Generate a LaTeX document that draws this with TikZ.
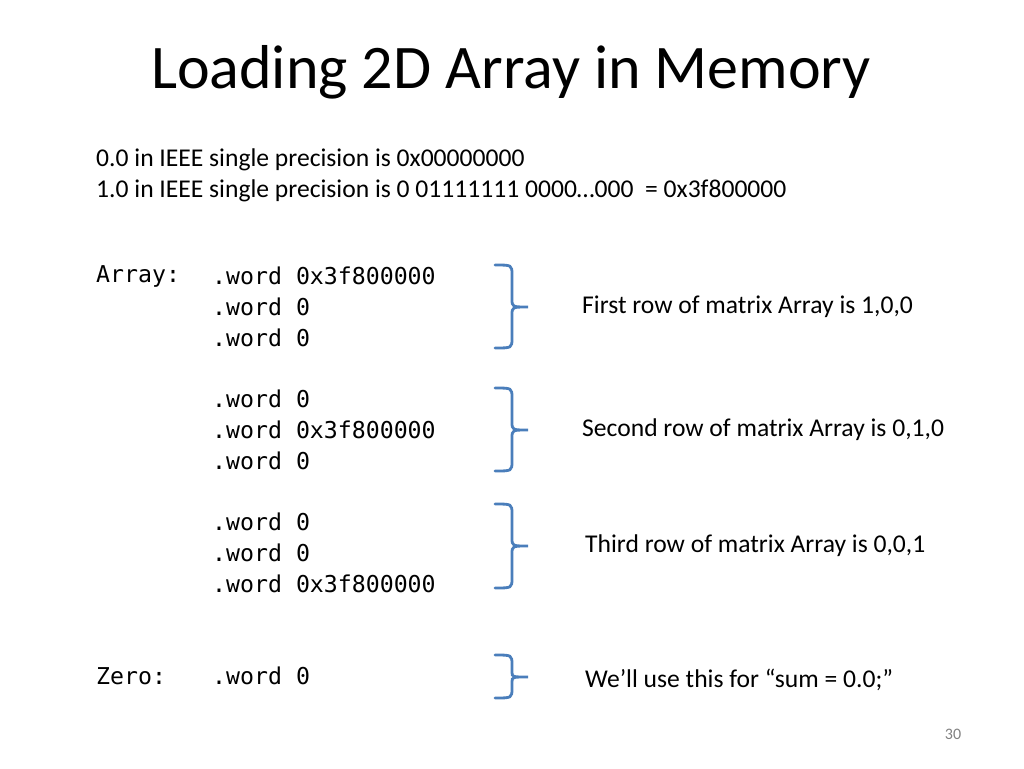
\documentclass[tikz,border=0pt]{standalone}
\usepackage{fontspec}
\setmainfont{Carlito}
\newfontfamily\monofnt{DejaVu Sans Mono}
\definecolor{brc}{HTML}{4A7EBB}
\tikzset{
 x=1pt,y=-1pt,
 txt/.style={anchor=west,inner sep=0pt,font=\fontsize{25.6}{30}\selectfont},
 mono/.style={anchor=west,inner sep=0pt,font=\monofnt\fontsize{23.2}{28}\selectfont},
 brc/.style={draw=brc,line width=2.8pt,line cap=round}
}
\newcommand{\brk}[3]{% top, bottom, mid y
 \draw[brc] (495,#1) .. controls (512,#1) and (512,#1) .. (512,#1+10) -- (512,#3-8) .. controls (512,#3) .. (528,#3)
   .. controls (512,#3) .. (512,#3+8) -- (512,#2-10) .. controls (512,#2) and (512,#2) .. (495,#2);}
\begin{document}
\begin{tikzpicture}
\useasboundingbox (0,0) rectangle (1024,768);
\node[anchor=center,inner sep=0pt,font=\fontsize{62}{72}\selectfont] (title) at (511,72) {Loading 2D Array in Memory};
\node[txt] (l1) at (96,160) {0.0 in IEEE single precision is 0x00000000};
\node[txt] (l2) at (96,191) {1.0 in IEEE single precision is 0 01111111 0000…000 \ = 0x3f800000};
\node[mono] (arr) at (96,276) {Array:};
\node[mono] (w1) at (212,276) {.word 0x3f800000};
\node[mono] (w2) at (212,307) {.word 0};
\node[mono] (w3) at (212,338) {.word 0};
\node[mono] (w4) at (212,399) {.word 0};
\node[mono] (w5) at (212,430) {.word 0x3f800000};
\node[mono] (w6) at (212,461) {.word 0};
\node[mono] (w7) at (212,522) {.word 0};
\node[mono] (w8) at (212,553) {.word 0};
\node[mono] (w9) at (212,584) {.word 0x3f800000};
\node[mono] (zero) at (96,676) {Zero:};
\node[mono] (w10) at (212,676) {.word 0};
\brk{265}{348}{307}
\brk{388}{471}{430}
\brk{504}{588}{546}
\draw[brc] (495,655) .. controls (512,655) .. (512,665) -- (512,672) .. controls (512,677) .. (528,677)
   .. controls (512,677) .. (512,682) -- (512,688) .. controls (512,698) .. (495,698);
\node[txt] (r1) at (582,307) {First row of matrix Array is 1,0,0};
\node[txt] (r2) at (582,430) {Second row of matrix Array is 0,1,0};
\node[txt] (r3) at (585,546) {Third row of matrix Array is 0,0,1};
\node[txt] (r4) at (585,680) {We’ll use this for “sum = 0.0;”};
\node[anchor=center,inner sep=0pt,font=\fontsize{16}{18}\selectfont,text=gray] (pg) at (953,734) {30};
\end{tikzpicture}
\end{document}
